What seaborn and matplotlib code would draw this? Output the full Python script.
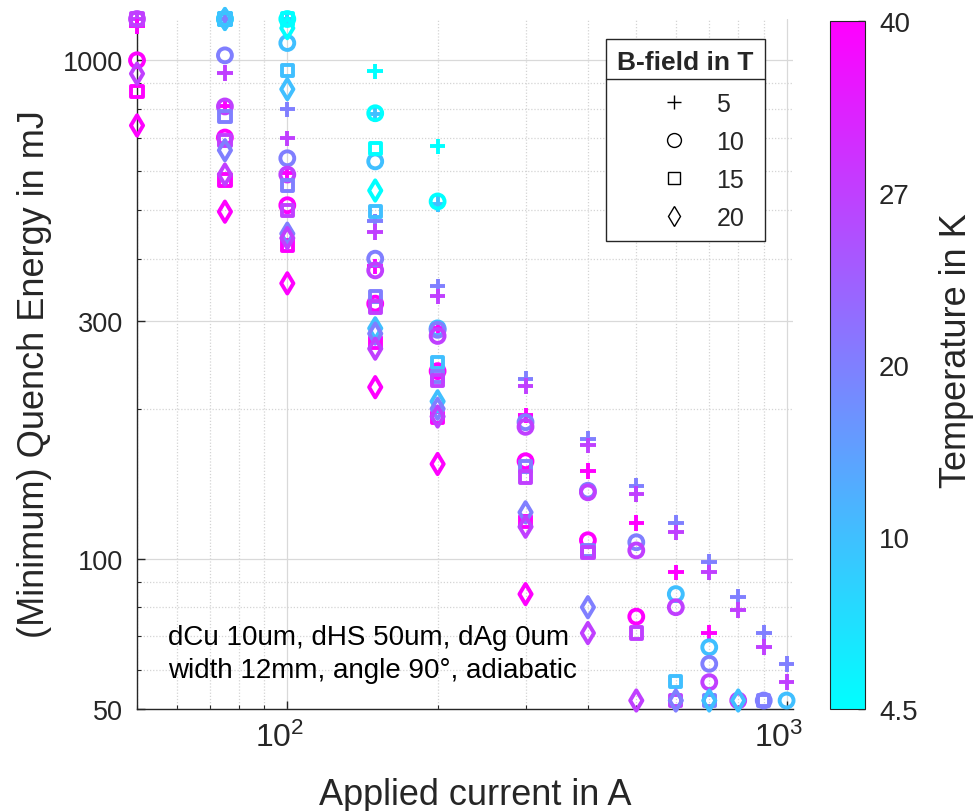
import numpy as np
import pandas as pd
import matplotlib
matplotlib.use("Agg")
import matplotlib.pyplot as plt
from matplotlib import ticker
from matplotlib import transforms
from matplotlib.lines import Line2D
from matplotlib.cm import ScalarMappable
from matplotlib.colors import Normalize
import seaborn as sns

N = np.nan

# Applied current (A) and the simulated parameter grid
currents = [50, 75, 100, 150, 200, 300, 400, 500, 600, 700, 800, 900, 1000]
temperatures = [4.5, 10, 20, 27, 40]
temperature_labels = ["4.5", "10", "20", "27", "40"]
b_fields = [5, 10, 15, 20]
b_markers = ["+", "o", "s", "d"]

# Minimum quench energy in mJ per (B-field, temperature), aligned with `currents`
# (1210 marks results at the top of the plotted range, 52 at the bottom)
q_b5_t4p5 = [N, 1210, 1210, 950, 672, N, N, N, N, N, N, N, N]
q_b5_t10 = [N, 1210, 1210, 780, 515, N, N, N, N, N, N, N, N]
q_b5_t20 = [N, 1210, 797, 475, 352, 230, 174, 140, 118, 98.6, 84, 71, 61.6]
q_b5_t27 = [1210, 942, 697, 453, 336, 222, 169, 135, 113, 94, 79, 66.5, 56.6]
q_b5_t40 = [1170, 808, 593, 386, 290, 194, 150, 118, 94, 71, N, N, N]

q_b10_t4p5 = [N, 1210, 1210, 783, 521, N, N, N, N, N, N, N, N]
q_b10_t10 = [N, 1210, 1083, 627, 290, N, N, N, 85, 66.5, N, N, 52]
q_b10_t20 = [N, 1023, 636, 400, 288, 188, 137, 108, N, 61.6, N, 52, N]
q_b10_t27 = [1210, 808, 590, 379, 280, 184, 136, 104, 80, 56.6, 52, N, N]
q_b10_t40 = [1000, 700, 512, 325, 238, 157, 109, 76.6, N, N, N, N, N]

q_b15_t4p5 = [N, 1210, 1210, 666, N, N, N, N, N, N, N, N, N]
q_b15_t10 = [N, 1210, 955, 497, 248, N, N, N, 56.8, N, N, N, N]
q_b15_t20 = [N, 772, 561, 336, 232, 153, 104, N, N, 52, N, 52, N]
q_b15_t27 = [1210, 690, 500, 320, 228, 146, 103, 71, 52, N, N, N, N]
q_b15_t40 = [865, 575, 425, 272, 192, 119, N, N, N, N, N, N, N]

q_b20_t4p5 = [N, 1210, 1160, 548, N, N, N, N, N, N, N, N, N]
q_b20_t10 = [N, 1210, 875, 290, 207, N, N, N, N, 52, 52, N, N]
q_b20_t20 = [N, 660, 449, 283, 200, 124, 80, N, 52, N, N, N, N]
q_b20_t27 = [940, 590, 440, 264, 193, 116, 71, 52, N, N, N, N, N]
q_b20_t40 = [740, 497, 357, 221, 155, 85, N, N, N, N, N, N, N]

series = {
    5: [q_b5_t4p5, q_b5_t10, q_b5_t20, q_b5_t27, q_b5_t40],
    10: [q_b10_t4p5, q_b10_t10, q_b10_t20, q_b10_t27, q_b10_t40],
    15: [q_b15_t4p5, q_b15_t10, q_b15_t20, q_b15_t27, q_b15_t40],
    20: [q_b20_t4p5, q_b20_t10, q_b20_t20, q_b20_t27, q_b20_t40],
}

rows = []
for b in b_fields:
    for t, values in zip(temperatures, series[b]):
        for i, e in zip(currents, values):
            rows.append({"field": b, "temperature": t, "current": i, "energy": e})
df = pd.DataFrame(rows).dropna()

sns.set_style("white")
plt.rcParams["font.family"] = ["Liberation Sans", "DejaVu Sans"]
plt.rcParams["mathtext.fontset"] = "custom"
plt.rcParams["mathtext.rm"] = "Liberation Sans"
plt.rcParams["mathtext.it"] = "Liberation Sans"
plt.rcParams["mathtext.bf"] = "Liberation Sans:bold"

ink = "#262626"
cmap = plt.get_cmap("cool")
palette = {t: cmap(k / (len(temperatures) - 1)) for k, t in enumerate(temperatures)}

W, H = 973, 812
fig = plt.figure(figsize=(W / 100, H / 100), dpi=100)
ax = fig.add_axes([137 / W, 102 / H, 656 / W, 690 / H])
ax.set_xscale("log")
ax.set_yscale("log")

sizes = {"+": 125, "o": 100, "s": 66, "d": 108}
for b, m in zip(b_fields, b_markers):
    sub = df[df["field"] == b]
    sns.scatterplot(data=sub, x="current", y="energy", hue="temperature",
                    palette=palette, marker=m, s=sizes[m], linewidth=2.8,
                    legend=False, ax=ax, clip_on=False, zorder=3)
    coll = ax.collections[-1]
    cols = coll.get_facecolors()
    coll.set_edgecolors(cols)
    if m != "+":
        coll.set_facecolors("none")

ax.set_xlim(50, 1030)
ax.set_ylim(50, 1210)

# axes styling: only left/bottom spines, inward ticks, solid major and dotted minor grid
for side in ["top", "right"]:
    ax.spines[side].set_visible(False)
for side in ["left", "bottom"]:
    ax.spines[side].set_color(ink)
    ax.spines[side].set_linewidth(1.0)

ax.xaxis.set_major_locator(ticker.FixedLocator([100, 1000]))
ax.xaxis.set_major_formatter(ticker.FixedFormatter([r"$10^2$", r"$10^3$"]))
ax.xaxis.set_minor_locator(ticker.LogLocator(base=10, subs=np.arange(2, 10), numticks=20))
ax.xaxis.set_minor_formatter(ticker.NullFormatter())
ax.yaxis.set_major_locator(ticker.FixedLocator([50, 100, 300, 1000]))
ax.yaxis.set_major_formatter(ticker.FixedFormatter(["50", "100", "300", "1000"]))
ax.yaxis.set_minor_locator(ticker.LogLocator(base=10, subs=np.arange(2, 10), numticks=20))
ax.yaxis.set_minor_formatter(ticker.NullFormatter())

ax.tick_params(axis="both", which="major", direction="in", length=6, width=1,
               color=ink, labelcolor=ink, bottom=True, left=True, top=False, right=False)
ax.tick_params(axis="y", which="major", labelsize=19.5, pad=10)
ax.tick_params(axis="x", which="major", labelsize=23, pad=9)
ax.tick_params(axis="both", which="minor", direction="in", length=3, width=0.8,
               color=ink, bottom=True, left=True, top=False, right=False)
shift = transforms.ScaledTranslation(-8 / 100, 0, fig.dpi_scale_trans)
for lbl in ax.get_xticklabels():
    lbl.set_transform(lbl.get_transform() + shift)

ax.grid(True, which="major", color="#d9d9d9", linewidth=0.9, linestyle="-")
ax.grid(True, which="minor", color="#d4d4d4", linewidth=0.9, linestyle=(0, (1, 1.5)))
ax.set_axisbelow(True)

ax.set_xlabel("Applied current in A", fontsize=26, color=ink, va="top")
ax.xaxis.set_label_coords(0.515, -0.099)
ax.set_ylabel("(Minimum) Quench Energy in mJ", fontsize=26, color=ink)
ax.yaxis.set_label_coords(-0.13, 0.487)

ax.text(0.047, 0.037, "dCu 10um, dHS 50um, dAg 0um\nwidth 12mm, angle 90°, adiabatic",
        transform=ax.transAxes, fontsize=20, color="black", ha="left", va="bottom",
        linespacing=1.36, zorder=4)

# B-field legend (marker shape)
handles = [Line2D([], [], linestyle="none", marker=m, color="black",
                  markerfacecolor="none", markersize=10 if m != "s" else 8,
                  markeredgewidth=1.0) for m in b_markers]
leg = ax.legend(handles, [str(b) for b in b_fields], title="B-field in T",
                loc="upper right", bbox_to_anchor=(0.957, 0.971), borderaxespad=0,
                fontsize=18, title_fontsize=19, frameon=True, fancybox=False,
                framealpha=1, edgecolor=ink, handlelength=3.84, handletextpad=-0.24,
                labelspacing=0.56, borderpad=0.45)
leg.get_title().set_fontweight("bold")
leg.get_frame().set_linewidth(1.0)
leg.set_zorder(6)
leg._legend_box.sep = 12.6

# temperature colorbar
cax = fig.add_axes([830 / W, 102 / H, 35 / W, 688 / H])
sm = ScalarMappable(norm=Normalize(0, len(temperatures) - 1), cmap=cmap)
cb = fig.colorbar(sm, cax=cax, ticks=range(len(temperatures)))
cb.ax.set_yticklabels(temperature_labels)
cb.ax.tick_params(direction="in", length=5, width=1, color=ink, labelcolor=ink,
                  labelsize=20, pad=10)
cb.outline.set_edgecolor(ink)
cb.outline.set_linewidth(0.8)
cb.set_label("Temperature in K", fontsize=26, color=ink)
cb.ax.yaxis.set_label_coords(3.1, 0.522)

# separator under the legend title
fig.canvas.draw()
renderer = fig.canvas.get_renderer()
lb = leg.get_window_extent(renderer)
tb = leg.get_title().get_window_extent(renderer)
y_sep = tb.y0 - 5
inv = fig.transFigure.inverted()
(x0, y0), (x1, _) = inv.transform([(lb.x0, y_sep), (lb.x1, y_sep)])
fig.add_artist(Line2D([x0, x1], [y0, y0], transform=fig.transFigure, color=ink,
                      linewidth=1.0, zorder=7))

fig.savefig("out.png", dpi=100)
